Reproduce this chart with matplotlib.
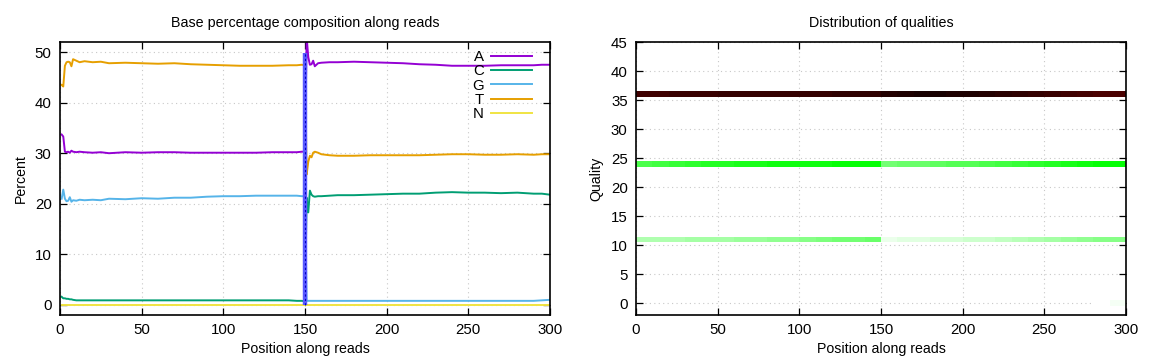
import numpy as np
import matplotlib
matplotlib.use('Agg')
import matplotlib.pyplot as plt
from matplotlib.colors import LinearSegmentedColormap, Normalize

plt.rcParams['font.family'] = ['Liberation Sans', 'DejaVu Sans']
plt.rcParams['font.size'] = 10.2

# Base composition (percent) at selected read positions
positions = [1, 2, 3, 4, 5, 6, 7, 8, 10, 12, 15, 20, 25, 30, 40, 50, 60, 70, 80, 90,
             100, 110, 120, 130, 140, 145, 148, 150, 151, 152, 153, 154, 155, 156, 158, 160,
             165, 170, 180, 190, 200, 210, 220, 230, 240, 250, 260, 270, 280, 290, 295, 300]

pct_A = [33.7, 33.3, 30.3, 30.2, 30.3, 30.1, 30.5, 30.3, 30.2, 30.3, 30.2, 30.1, 30.2, 30.0, 30.2, 30.1, 30.2, 30.2, 30.1, 30.1,
         30.1, 30.1, 30.1, 30.2, 30.2, 30.2, 30.3, 30.3, 53.0, 49.0, 47.5, 47.6, 48.3, 47.2, 47.8, 47.9,
         48.0, 48.0, 48.1, 48.0, 47.9, 47.8, 47.6, 47.5, 47.3, 47.3, 47.3, 47.4, 47.4, 47.4, 47.5, 47.5]
pct_C = [1.6, 1.3, 1.3, 1.2, 1.2, 1.1, 1.1, 1.0, 0.9, 0.9, 0.9, 0.9, 0.9, 0.9, 0.9, 0.9, 0.9, 0.9, 0.9, 0.9,
         0.9, 0.9, 0.9, 0.9, 0.9, 0.8, 0.8, 0.7, 21.2, 18.3, 22.6, 21.8, 21.5, 21.4, 21.5, 21.5,
         21.6, 21.7, 21.7, 21.8, 21.9, 22.0, 22.0, 22.2, 22.3, 22.2, 22.2, 22.1, 22.2, 22.0, 22.0, 21.8]
pct_G = [21.0, 22.8, 21.0, 20.5, 20.6, 21.3, 20.4, 20.7, 20.6, 20.8, 20.7, 20.8, 20.7, 21.0, 20.9, 21.1, 21.0, 21.2, 21.2, 21.4,
         21.5, 21.5, 21.6, 21.6, 21.6, 21.6, 21.5, 21.5, 0.8, 0.8, 0.8, 0.8, 0.8, 0.8, 0.8, 0.8,
         0.8, 0.8, 0.8, 0.8, 0.8, 0.8, 0.8, 0.8, 0.8, 0.8, 0.8, 0.8, 0.8, 0.8, 0.9, 1.0]
pct_T = [43.5, 43.2, 47.3, 48.0, 48.1, 48.0, 47.2, 48.6, 48.3, 48.0, 48.2, 48.0, 48.1, 47.8, 47.9, 47.8, 47.7, 47.8, 47.6, 47.5,
         47.4, 47.3, 47.3, 47.3, 47.4, 47.4, 47.5, 47.4, 25.8, 28.3, 29.5, 29.2, 30.1, 30.3, 30.1, 29.8,
         29.6, 29.5, 29.5, 29.6, 29.6, 29.6, 29.6, 29.7, 29.8, 29.8, 29.7, 29.7, 29.8, 29.7, 29.8, 29.8]
pct_N = [0.05] * len(positions)

# Quality distribution: percent of reads per 10-position bin
bin_edges = list(range(0, 301, 10))
q36 = [86.0, 86.0, 85.8, 85.8, 85.6, 85.5, 85.5, 85.4, 85.4, 85.3, 85.2, 85.2, 85.0, 85.0, 85.0,
       84.0, 83.6, 83.5, 83.5, 83.6, 83.8, 84.0, 84.5, 85.0, 85.4, 85.8, 86.2, 86.5, 86.8, 87.0]
q24 = [7.4, 7.8, 8.1, 8.4, 8.6, 8.8, 9.0, 9.2, 9.4, 9.5, 9.6, 9.7, 9.8, 9.9, 10.0,
       5.6, 5.9, 6.1, 6.4, 6.7, 7.0, 7.3, 7.6, 8.0, 8.4, 8.8, 9.2, 9.6, 10.0, 10.0]
q11 = [3.3, 3.4, 3.5, 3.6, 3.7, 3.8, 4.0, 4.2, 4.4, 4.6, 4.9, 5.2, 5.5, 5.8, 6.0,
       1.1, 1.2, 1.4, 1.6, 1.8, 2.0, 2.3, 2.6, 3.0, 3.4, 3.8, 4.2, 4.6, 4.9, 5.0]
q0 = [0.0] * 28 + [0.3, 0.5]

colors = {'A': '#9400D3', 'C': '#009E73', 'G': '#56B4E9', 'T': '#E69F00', 'N': '#F0E442'}

fig = plt.figure(figsize=(11.52, 3.6), dpi=100)
ax1 = fig.add_axes([60 / 1152, 1 - 315 / 360, 490 / 1152, 273 / 360])
ax2 = fig.add_axes([636 / 1152, 1 - 315 / 360, 490 / 1152, 273 / 360])

# Left: base composition
for label, vals in [('A', pct_A), ('C', pct_C), ('G', pct_G), ('T', pct_T), ('N', pct_N)]:
    ax1.plot(positions, vals, color=colors[label], lw=1.4, label=label)
ax1.vlines(150, 0, 49.8, color='#5a5aff', lw=3.2, zorder=3)
ax1.vlines(150, 0, 49.8, color='#0000c0', lw=0.8, linestyles=(0, (2, 2)), zorder=4)

ax1.set_xlim(0, 300)
ax1.set_ylim(-2, 52)
ax1.set_xticks(range(0, 301, 50))
ax1.set_yticks(range(0, 51, 10))
ax1.set_title('Base percentage composition along reads', fontsize=10.3, pad=11)
ax1.set_xlabel('Position along reads', labelpad=3)
ax1.set_ylabel('Percent', labelpad=5)
leg = ax1.legend(loc='upper right', frameon=False, markerfirst=False, handlelength=2.7,
                 handletextpad=0.5, labelspacing=0.02, borderaxespad=0.0, fontsize=10.8,
                 bbox_to_anchor=(0.975, 0.993))

# Right: quality heatmap
cmap = LinearSegmentedColormap.from_list(
    'qual', [(0.0, 'white'), (0.10, '#00ff00'), (0.818, 'black'), (1.0, 'red')])
Z = np.zeros((46, len(q36)))
Z[36] = q36
Z[24] = q24
Z[11] = q11
Z[0] = q0
Z = np.ma.masked_equal(Z, 0)
ax2.pcolormesh(bin_edges, np.arange(-0.5, 46.5, 1), Z, cmap=cmap,
               norm=Normalize(0, 100), shading='flat', zorder=2)
ax2.set_xlim(0, 300)
ax2.set_ylim(-2, 45)
ax2.set_xticks(range(0, 301, 50))
ax2.set_yticks(range(0, 46, 5))
ax2.set_title('Distribution of qualities', fontsize=10.3, pad=11)
ax2.set_xlabel('Position along reads', labelpad=3)
ax2.set_ylabel('Quality', labelpad=5)

for ax in (ax1, ax2):
    ax.grid(True, linestyle=(0, (1, 3)), color='#c8c8c8', lw=0.8)
    ax.set_axisbelow(True)
    ax.tick_params(direction='in', top=True, right=True, length=5, width=0.9,
                   labelsize=10.8, pad=6)
    for s in ax.spines.values():
        s.set_linewidth(1.2)

fig.savefig('out.png', dpi=100)
